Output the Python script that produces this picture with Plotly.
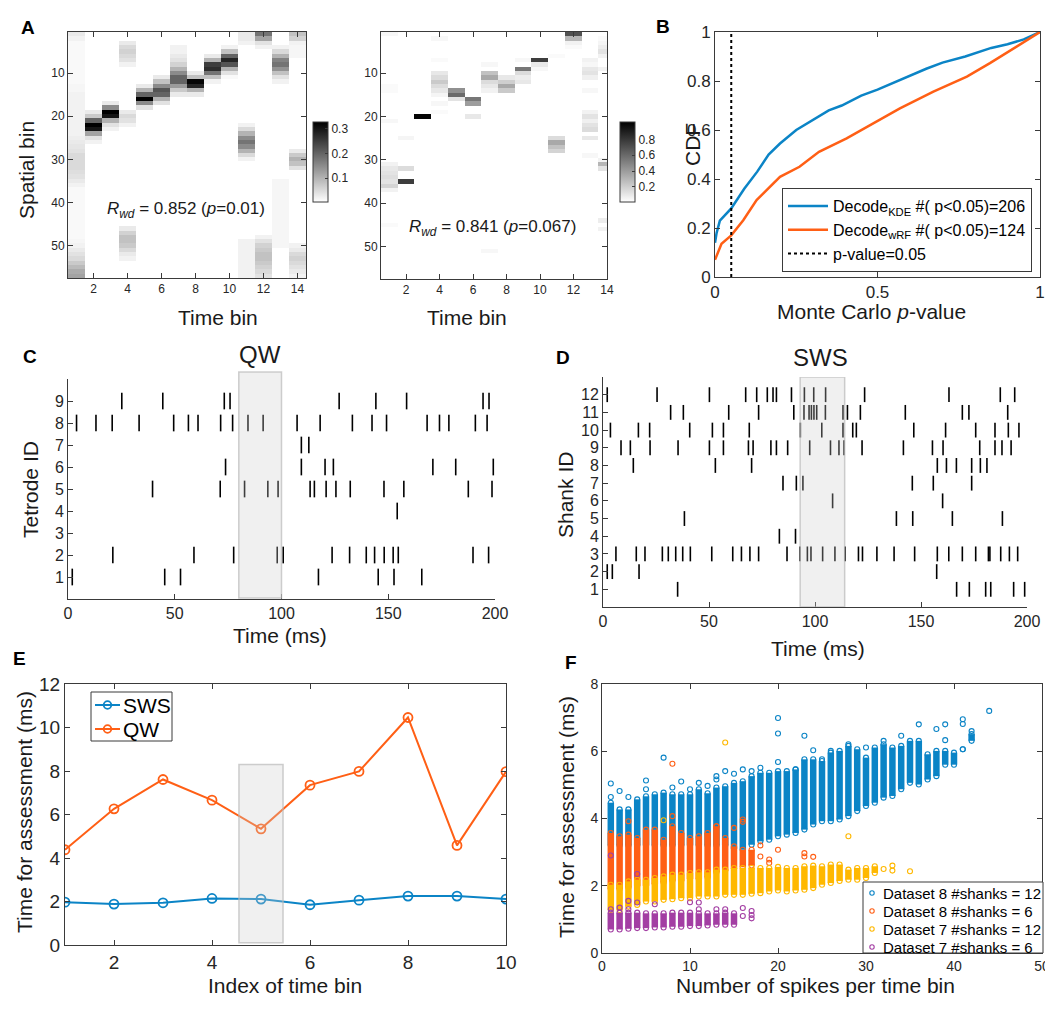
import plotly.graph_objects as go

# The page body has an 8 px margin; the figure is sized so that it ends exactly
# at the window edge, and all positions below are given in window pixels.
OFF = 8
W, H = 1053 - OFF, 1009 - OFF
FONT = "Liberation Sans, Arial, Helvetica, sans-serif"
TXT = "#1a1a1a"
AXC = "#3a3a3a"


def PX(x):
    return (x - OFF) / W


def PY(y):
    return 1 - (y - OFF) / H


# ---------------- Panel A data ----------------
TIME_BINS = list(range(1, 15))
SPATIAL_BINS = list(range(1, 58))

# (time bin, first spatial bin, posterior values of consecutive spatial bins)
A_LEFT_CELLS = [
    (1, 1, [0.03, 0.02, 0.01, 0.01, 0.01, 0.01, 0.01, 0.01, 0.01, 0.01,
            0.01, 0.01, 0.015, 0.015, 0.02, 0.02, 0.02, 0.02, 0.02, 0.02,
            0.02, 0.02, 0.02, 0.02, 0.025, 0.03, 0.035, 0.04, 0.05, 0.05,
            0.05, 0.05, 0.045, 0.04, 0.03, 0.02, 0.01, 0.01, 0.01, 0.01,
            0.01, 0.01, 0.01, 0.01, 0.01, 0.01, 0.01, 0.01, 0.015, 0.02,
            0.03, 0.04, 0.05, 0.07, 0.09, 0.11, 0.12]),
    (2, 19, [0.03, 0.07, 0.2, 0.33, 0.3, 0.12, 0.04, 0.02]),
    (3, 17, [0.03, 0.15, 0.33, 0.3, 0.1, 0.04, 0.02]),
    (4, 3, [0.03, 0.05, 0.06, 0.05, 0.04, 0.02]),
    (4, 19, [0.03, 0.05, 0.04, 0.02]),
    (4, 46, [0.03, 0.06, 0.08, 0.08, 0.07, 0.05, 0.03, 0.02]),
    (5, 13, [0.03, 0.1, 0.2, 0.33, 0.15, 0.04]),
    (6, 11, [0.03, 0.08, 0.15, 0.22, 0.2, 0.1, 0.04]),
    (7, 4, [0.02, 0.02, 0.03, 0.04, 0.06, 0.1, 0.15, 0.2, 0.2, 0.13, 0.07, 0.03]),
    (8, 10, [0.03, 0.08, 0.32, 0.28, 0.1, 0.03]),
    (9, 6, [0.03, 0.1, 0.25, 0.27, 0.18, 0.08, 0.02]),
    (10, 4, [0.02, 0.08, 0.2, 0.28, 0.22, 0.1, 0.04, 0.01]),
    (11, 1, [0.03, 0.03, 0.02]),
    (11, 22, [0.02, 0.05, 0.1, 0.15, 0.18, 0.15, 0.1, 0.05, 0.02]),
    (11, 49, [0.02, 0.02, 0.02, 0.02, 0.02, 0.02, 0.02, 0.02, 0.02]),
    (12, 1, [0.18, 0.12, 0.04, 0.02]),
    (12, 48, [0.02, 0.04, 0.06, 0.07, 0.08, 0.08, 0.07, 0.06, 0.05, 0.04]),
    (13, 4, [0.02, 0.05, 0.1, 0.16, 0.18, 0.14, 0.08, 0.04, 0.02]),
    (13, 35, [0.015, 0.015, 0.015, 0.015, 0.015, 0.015, 0.015, 0.015,
              0.015, 0.015, 0.015, 0.015, 0.015, 0.015, 0.015, 0.015]),
    (14, 1, [0.08, 0.06, 0.02, 0.015, 0.015, 0.015]),
    (14, 28, [0.03, 0.07, 0.1, 0.08, 0.04]),
    (14, 50, [0.02, 0.03, 0.05, 0.06, 0.05, 0.04, 0.03, 0.02]),
]

A_RIGHT_CELLS = [
    (1, 1, [0.04]), (1, 13, [0.03, 0.03]), (1, 21, [0.04]),
    (1, 31, [0.06, 0.1, 0.12, 0.14, 0.12, 0.18, 0.06]), (1, 45, [0.03]),
    (2, 25, [0.05]), (2, 32, [0.15]), (2, 35, [0.78]),
    (3, 20, [1.0]),
    (4, 2, [0.04]), (4, 7, [0.03]), (4, 10, [0.1, 0.15, 0.22, 0.15, 0.1, 0.05]),
    (4, 17, [0.04]), (4, 19, [0.03]),
    (5, 14, [0.45, 0.6, 0.12]),
    (6, 16, [0.55, 0.4]), (6, 20, [0.1]),
    (7, 8, [0.04]), (7, 10, [0.25, 0.35, 0.15, 0.1, 0.06]), (7, 51, [0.04]),
    (8, 11, [0.1, 0.2, 0.35, 0.22]),
    (9, 7, [0.04]), (9, 9, [0.55, 0.15, 0.08, 0.1]),
    (10, 7, [0.78, 0.1, 0.04]),
    (11, 6, [0.03]), (11, 25, [0.15, 0.35, 0.25, 0.18]),
    (12, 1, [0.7, 0.3, 0.06, 0.03]),
    (13, 7, [0.06, 0.04, 0.1, 0.12, 0.07]), (13, 14, [0.04]),
    (13, 19, [0.06, 0.12, 0.07, 0.12, 0.15]), (13, 25, [0.1]), (13, 29, [0.04]),
    (14, 2, [0.03, 0.05, 0.08, 0.12, 0.06]), (14, 9, [0.06]),
    (14, 30, [0.06, 0.3, 0.12]), (14, 44, [0.08]), (14, 46, [0.06]),
]

# ---------------- Panel B data ----------------
B_KDE_P = [0.0, 0.005, 0.015, 0.05, 0.09, 0.13, 0.165, 0.2, 0.25, 0.3, 0.35,
           0.39, 0.45, 0.5, 0.56, 0.65, 0.7, 0.77, 0.85, 0.9, 0.95, 1.0]
B_KDE_CDF = [0.14, 0.18, 0.23, 0.28, 0.36, 0.43, 0.50, 0.545, 0.60, 0.64, 0.68,
             0.70, 0.74, 0.765, 0.80, 0.85, 0.875, 0.90, 0.935, 0.95, 0.97, 1.0]
B_WRF_P = [0.0, 0.02, 0.05, 0.087, 0.128, 0.2, 0.26, 0.32, 0.405, 0.487,
           0.569, 0.672, 0.775, 0.846, 0.928, 1.0]
B_WRF_CDF = [0.07, 0.136, 0.17, 0.232, 0.314, 0.409, 0.45, 0.511, 0.566, 0.627,
             0.688, 0.757, 0.818, 0.873, 0.941, 1.0]
B_ALPHA = 0.05

# ---------------- Panel C data (QW, tetrodes) ----------------
C_SPIKES = {
    9: [25.2, 44.4, 73.2, 75.9, 127.0, 144.2, 158.6, 194.4, 197.2],
    8: [4.0, 13.1, 20.7, 33.3, 49.5, 56.4, 60.9, 71.5, 77.1, 84.3, 91.4, 107.3,
        118.1, 133.2, 142.4, 149.2, 168.2, 174.0, 178.4, 190.8, 196.3],
    7: [109.3, 112.8],
    6: [73.8, 109.3, 120.4, 124.3, 170.9, 181.6, 199.2],
    5: [39.6, 71.3, 82.7, 93.6, 98.4, 113.4, 115.4, 120.9, 125.5, 132.2, 148.0,
        157.3, 187.5, 198.6],
    4: [154.2],
    3: [],
    2: [21.0, 59.0, 77.6, 98.0, 100.8, 123.7, 131.9, 139.7, 143.6, 148.1, 152.3,
        154.7, 189.7, 197.0],
    1: [2.0, 45.3, 52.7, 117.3, 145.3, 152.7, 165.7],
}
C_WINDOW = (80, 100)

# ---------------- Panel D data (SWS, shanks) ----------------
D_SPIKES = {
    12: [2.0, 25.5, 50.2, 67.3, 72.5, 77.5, 80.2, 81.8, 88.9, 95.0, 99.4, 105.0,
         123.4, 163.2, 187.4, 194.2],
    11: [31.9, 37.9, 59.3, 73.4, 90.0, 94.8, 97.2, 98.3, 99.5, 100.8, 104.9,
         113.2, 115.3, 121.4, 142.6, 169.5, 172.6, 190.9],
    10: [3.5, 16.7, 22.0, 40.9, 51.6, 56.8, 69.0, 93.1, 103.2, 113.2, 117.8,
         119.5, 146.6, 161.6, 175.8, 184.9, 191.2, 196.2],
    9: [8.5, 12.9, 22.2, 35.4, 50.2, 56.8, 68.6, 70.8, 79.2, 81.8, 87.1, 97.5,
        107.3, 111.3, 113.7, 122.2, 141.7, 155.4, 160.4, 177.7, 184.9, 188.2,
        192.5],
    8: [14.3, 53.0, 70.1, 157.7, 162.0, 166.7, 173.9, 178.0, 181.1],
    7: [84.9, 91.2, 94.3, 145.9, 155.8, 173.9],
    6: [108.3, 160.2],
    5: [38.4, 138.4, 146.1, 164.8, 188.4],
    4: [83.2, 90.8],
    3: [6.1, 15.7, 19.8, 28.0, 30.8, 34.3, 37.6, 41.2, 51.3, 61.2, 65.3, 69.3,
        73.4, 86.8, 92.9, 96.4, 98.1, 103.6, 109.4, 114.2, 120.5, 122.4, 129.2,
        137.3, 147.0, 157.7, 163.1, 169.5, 175.8, 181.8, 182.5, 187.6, 191.7,
        195.6],
    2: [2.0, 4.4, 17.0, 157.4],
    1: [35.2, 166.8, 172.8, 180.5, 182.9, 193.7, 198.9],
}
D_WINDOW = (93, 114)

# ---------------- Panel E data ----------------
E_TIME_BIN = [1, 2, 3, 4, 5, 6, 7, 8, 9, 10]
E_SWS = [1.97, 1.88, 1.94, 2.14, 2.11, 1.85, 2.06, 2.25, 2.25, 2.11]
E_QW = [4.38, 6.26, 7.61, 6.66, 5.34, 7.35, 7.98, 10.46, 4.58, 7.97]
E_WINDOW = (4.55, 5.45, 8.3)

# ---------------- Panel F data (ranges of dense columns + outliers) -------
F_B_X = list(range(1, 43))
F_B_HI = [4.47, 4.27, 4.27, 4.57, 4.66, 4.72, 4.77, 4.72, 4.72, 4.72, 4.87, 4.75,
          4.92, 4.96, 5.06, 5.11, 5.26, 5.36, 5.36, 5.41, 5.41, 5.46, 5.76, 5.76,
          5.71, 5.96, 6.01, 6.16, 6.06, 5.81, 6.11, 6.21, 6.11, 6.16, 6.31, 6.31,
          5.91, 6.01, 6.01, 5.96, 6.06, 6.51]
F_B_LO = [3.2, 3.2, 3.2, 3.2, 3.2, 3.2, 3.2, 3.2, 3.2, 3.2, 3.2, 3.2, 3.2, 3.2,
          3.1, 3.07, 3.22, 3.32, 3.37, 3.47, 3.52, 3.57, 3.67, 3.82, 3.92, 3.92,
          3.97, 4.07, 4.22, 4.37, 4.47, 4.62, 4.67, 4.87, 5.06, 5.01, 5.16, 5.26,
          5.6, 5.6, 6.06, 6.31]
F_B_OUT_X = [1, 1, 2, 3, 5, 5, 7, 8, 9, 10, 11, 12, 13, 13, 14, 15, 16, 17, 18,
             20, 20, 20, 22, 23, 24, 25, 26, 28, 30, 32, 34, 36, 38, 39, 39, 41,
             41, 42, 44]
F_B_OUT_Y = [5.04, 4.64, 4.82, 4.64, 5.13, 4.87, 5.81, 4.92, 5.1, 4.87, 5.06,
             4.97, 5.26, 5.16, 5.41, 5.33, 5.46, 5.41, 5.51, 6.99, 6.53, 5.68,
             5.46, 6.46, 6.03, 5.76, 6.01, 6.21, 6.11, 6.31, 6.46, 6.8, 6.66, 6.8,
             6.33, 6.95, 6.81, 6.6, 7.2]

F_O_X = list(range(1, 18))
F_O_HI = [3.57, 3.47, 3.52, 3.42, 3.67, 3.67, 3.37, 3.77, 3.57, 3.42, 3.47, 3.57,
          3.77, 3.42, 3.17, 3.07, 3.07]
F_O_LO = [1.9, 1.9, 1.95, 2.0, 2.0, 2.05, 2.1, 2.15, 2.15, 2.2, 2.2, 2.25, 2.4,
          2.45, 2.5, 2.55, 2.6]
F_O_OUT_X = [3, 8, 8, 13, 15, 16, 16, 18, 18, 19, 19, 20, 23, 23, 24]
F_O_OUT_Y = [3.92, 4.07, 5.63, 3.77, 3.72, 3.97, 3.9, 3.2, 2.87, 2.78, 2.68,
             3.07, 2.97, 2.87, 2.86]

F_Y_X = list(range(1, 32))
F_Y_HI = [2.03, 2.03, 2.13, 2.18, 2.18, 2.23, 2.28, 2.33, 2.33, 2.38, 2.4, 2.4,
          2.48, 2.48, 2.53, 2.53, 2.53, 2.53, 2.53, 2.56, 2.53, 2.53, 2.58, 2.6,
          2.58, 2.63, 2.63, 2.48, 2.53, 2.53, 2.58]
F_Y_LO = [1.28, 1.28, 1.38, 1.43, 1.53, 1.53, 1.58, 1.6, 1.63, 1.63, 1.68, 1.68,
          1.68, 1.73, 1.73, 1.73, 1.76, 1.78, 1.83, 1.86, 1.83, 1.86, 1.88, 1.93,
          2.03, 2.08, 2.14, 2.18, 2.18, 2.23, 2.38]
F_Y_OUT_X = [7, 14, 28, 32, 33, 33, 35]
F_Y_OUT_Y = [3.95, 6.26, 3.47, 2.5, 2.6, 2.45, 2.43]

F_P_X = list(range(1, 16))
F_P_HI = [1.2, 1.2, 1.2, 1.2, 1.18, 1.18, 1.18, 1.2, 1.2, 1.2, 1.18, 1.18, 1.18,
          1.2, 1.18]
F_P_LO = [0.7, 0.7, 0.72, 0.74, 0.74, 0.76, 0.76, 0.78, 0.78, 0.8, 0.8, 0.82,
          0.84, 0.84, 0.84]
F_P_OUT_X = [1, 1, 2, 3, 3, 4, 4, 6, 10, 11, 11, 13, 14, 16, 16, 17, 17, 17]
F_P_OUT_Y = [1.3, 2.9, 1.35, 1.55, 1.3, 2.35, 1.5, 1.45, 1.51, 1.5, 1.3, 1.3,
             1.3, 1.34, 1.1, 1.25, 1.13, 1.03]

F_NAMES = ["Dataset 8 #shanks = 12", "Dataset 8 #shanks = 6",
           "Dataset 7 #shanks = 12", "Dataset 7 #shanks = 6"]
E_NAMES = ["SWS", "QW"]

C_BLUE = "#0b84c6"
C_ORANGE = "#ff5f15"
C_YELLOW = "#ffb800"
C_PURPLE = "#a33ea3"

# ---------------- axes rectangles in pixels: (x0, x1, y0_top, y1_bottom) ----
RECT = {
    1: (68, 306, 32, 278),
    2: (381, 607, 32, 279),
    3: (715, 1040, 32, 277),
    4: (68, 495, 379, 599),
    5: (603, 1027, 377, 607),
    6: (65, 506, 684, 945),
    7: (602, 1042, 684, 953),
}


def dom_x(i):
    r = RECT[i]
    return [PX(r[0]), PX(r[1])]


def dom_y(i):
    r = RECT[i]
    return [PY(r[3]), PY(r[2])]


def axis(domain, rng, tickvals, size, anchor, mirror=True, ticktext=None):
    d = dict(domain=domain, range=rng, tickvals=tickvals, showline=True,
             linecolor=AXC, linewidth=1, ticks="inside", ticklen=5,
             tickcolor=AXC, tickwidth=1, mirror="ticks" if mirror else False,
             showgrid=False, zeroline=False, anchor=anchor, fixedrange=True,
             automargin=False,
             tickfont=dict(family=FONT, size=size, color="#262626"))
    if ticktext is not None:
        d["ticktext"] = ticktext
    return d


def build_matrix(cells):
    z = [[0.0 for _ in TIME_BINS] for _ in SPATIAL_BINS]
    for t, s0, vals in cells:
        for k, v in enumerate(vals):
            z[s0 - 1 + k][t - 1] = v
    return z


fig = go.Figure()

# ----- Panel A heatmaps -----
gray_scale = [[0, "#ffffff"], [1, "#000000"]]
fig.add_trace(go.Heatmap(
    z=build_matrix(A_LEFT_CELLS), x=TIME_BINS, y=SPATIAL_BINS,
    colorscale=gray_scale, zmin=0.003, zmax=0.327, xaxis="x", yaxis="y",
    colorbar=dict(x=PX(313), xanchor="left", y=PY(162), yanchor="middle",
                  len=80, lenmode="pixels", thickness=15,
                  thicknessmode="pixels", outlinewidth=1, outlinecolor=AXC,
                  tickvals=[0.1, 0.2, 0.3], ticks="inside", ticklen=3,
                  tickcolor=AXC, xpad=0, ypad=0,
                  tickfont=dict(family=FONT, size=12, color="#262626"))))
fig.add_trace(go.Heatmap(
    z=build_matrix(A_RIGHT_CELLS), x=TIME_BINS, y=SPATIAL_BINS,
    colorscale=gray_scale, zmin=0.01, zmax=1.02, xaxis="x2", yaxis="y2",
    colorbar=dict(x=PX(620), xanchor="left", y=PY(162), yanchor="middle",
                  len=80, lenmode="pixels", thickness=15,
                  thicknessmode="pixels", outlinewidth=1, outlinecolor=AXC,
                  tickvals=[0.2, 0.4, 0.6, 0.8], ticks="inside", ticklen=3,
                  tickcolor=AXC, xpad=0, ypad=0,
                  tickfont=dict(family=FONT, size=12, color="#262626"))))

# ----- Panel B -----
fig.add_trace(go.Scatter(
    x=B_KDE_P, y=B_KDE_CDF, mode="lines", line=dict(color=C_BLUE, width=2.5),
    name="Decode<sub>KDE</sub> #( p<0.05)=206", xaxis="x3", yaxis="y3",
    legend="legend"))
fig.add_trace(go.Scatter(
    x=B_WRF_P, y=B_WRF_CDF, mode="lines", line=dict(color=C_ORANGE, width=2.5),
    name="Decode<sub>wRF</sub> #( p<0.05)=124", xaxis="x3", yaxis="y3",
    legend="legend"))
fig.add_trace(go.Scatter(
    x=[B_ALPHA, B_ALPHA], y=[0, 1], mode="lines",
    line=dict(color="black", width=2, dash="dot"),
    name="p-value=0.05", xaxis="x3", yaxis="y3", legend="legend"))


# ----- Panels C & D rasters -----
def raster(spikes, half):
    xs, ys = [], []
    for row, times in spikes.items():
        for t in times:
            xs += [t, t, None]
            ys += [row - half, row + half, None]
    return xs, ys


cx, cy = raster(C_SPIKES, 0.38)
fig.add_trace(go.Scatter(x=cx, y=cy, mode="lines",
                         line=dict(color="black", width=1.6),
                         xaxis="x4", yaxis="y4", showlegend=False))
dx, dy = raster(D_SPIKES, 0.42)
fig.add_trace(go.Scatter(x=dx, y=dy, mode="lines",
                         line=dict(color="black", width=1.6),
                         xaxis="x5", yaxis="y5", showlegend=False))

# ----- Panel E -----
for name, yv, col in [(E_NAMES[0], E_SWS, C_BLUE), (E_NAMES[1], E_QW, C_ORANGE)]:
    fig.add_trace(go.Scatter(
        x=E_TIME_BIN, y=yv, mode="lines+markers", name=name,
        line=dict(color=col, width=2),
        marker=dict(symbol="circle-open", size=9, line=dict(width=1.8, color=col)),
        xaxis="x6", yaxis="y6", showlegend=False))


# ----- Panel F -----
def ranges(xv, lo, hi):
    xs, ys = [], []
    for x, a, b in zip(xv, lo, hi):
        xs += [x, x, None]
        ys += [a, b, None]
    return xs, ys


F_SERIES = [
    (F_NAMES[0], C_BLUE, F_B_X, F_B_LO, F_B_HI, F_B_OUT_X, F_B_OUT_Y),
    (F_NAMES[1], C_ORANGE, F_O_X, F_O_LO, F_O_HI, F_O_OUT_X, F_O_OUT_Y),
    (F_NAMES[2], C_YELLOW, F_Y_X, F_Y_LO, F_Y_HI, F_Y_OUT_X, F_Y_OUT_Y),
    (F_NAMES[3], C_PURPLE, F_P_X, F_P_LO, F_P_HI, F_P_OUT_X, F_P_OUT_Y),
]
for name, col, xv, lo, hi, ox, oy in F_SERIES:
    rx, ry = ranges(xv, lo, hi)
    fig.add_trace(go.Scatter(x=rx, y=ry, mode="lines",
                             line=dict(color=col, width=6.5),
                             xaxis="x7", yaxis="y7", showlegend=False))
    fig.add_trace(go.Scatter(
        x=list(xv) + list(xv) + list(ox), y=list(lo) + list(hi) + list(oy),
        mode="markers", name=name,
        marker=dict(symbol="circle-open", size=5, color=col,
                    line=dict(width=1.1, color=col)),
        xaxis="x7", yaxis="y7", showlegend=False))

# ---------------- layout ----------------
layout = dict(
    width=W, height=H,
    margin=dict(l=0, r=0, t=0, b=0, pad=0, autoexpand=False),
    paper_bgcolor="white", plot_bgcolor="white",
    font=dict(family=FONT, color=TXT),
    xaxis=axis(dom_x(1), [0.5, 14.5], [2, 4, 6, 8, 10, 12, 14], 12, "y"),
    yaxis=axis(dom_y(1), [57.5, 0.5], [10, 20, 30, 40, 50], 12, "x"),
    xaxis2=axis(dom_x(2), [0.5, 14.0], [2, 4, 6, 8, 10, 12, 14], 12, "y2"),
    yaxis2=axis(dom_y(2), [57.5, 0.5], [10, 20, 30, 40, 50], 12, "x2"),
    xaxis3=axis(dom_x(3), [0, 1], [0, 0.5, 1], 17, "y3",
                ticktext=["0", "0.5", "1"]),
    yaxis3=axis(dom_y(3), [0, 1], [0, 0.2, 0.4, 0.6, 0.8, 1], 17, "x3",
                ticktext=["0", "0.2", "0.4", "0.6", "0.8", "1"]),
    xaxis4=axis(dom_x(4), [0, 200], [0, 50, 100, 150, 200], 16, "y4", mirror=False),
    yaxis4=axis(dom_y(4), [0, 10], list(range(1, 10)), 16, "x4", mirror=False),
    xaxis5=axis(dom_x(5), [0, 200], [0, 50, 100, 150, 200], 16, "y5", mirror=False),
    yaxis5=axis(dom_y(5), [0, 13], list(range(1, 13)), 16, "x5", mirror=False),
    xaxis6=axis(dom_x(6), [1, 10], [2, 4, 6, 8, 10], 19, "y6"),
    yaxis6=axis(dom_y(6), [0, 12], [0, 2, 4, 6, 8, 10, 12], 19, "x6"),
    xaxis7=axis(dom_x(7), [0, 50], [0, 10, 20, 30, 40, 50], 14, "y7"),
    yaxis7=axis(dom_y(7), [0, 8], [0, 2, 4, 6, 8], 14, "x7"),
    legend=dict(x=PX(782), y=PY(188), xanchor="left", yanchor="top",
                bgcolor="white", bordercolor=AXC, borderwidth=1,
                font=dict(family=FONT, size=16, color="black"),
                tracegroupgap=0, itemwidth=40),
)
fig.update_layout(**layout)

SHAPES = []
ANN = []

# shaded windows (drawn above with transparency, like the original)
shade = dict(fillcolor="rgba(205,205,205,0.3)",
             line=dict(color="rgba(185,185,185,0.7)", width=1.5), layer="above")
SHAPES.append(dict(type="rect", xref="x4", yref="paper", x0=C_WINDOW[0],
                   x1=C_WINDOW[1], y0=PY(598), y1=PY(372), **shade))
SHAPES.append(dict(type="rect", xref="x5", yref="y5", x0=D_WINDOW[0],
                   x1=D_WINDOW[1], y0=0, y1=13, **shade))
SHAPES.append(dict(type="rect", xref="x6", yref="y6", x0=E_WINDOW[0],
                   x1=E_WINDOW[1], y0=0.1, y1=E_WINDOW[2], **shade))


def text(s, x, y, size, angle=0, bold=False, color=TXT, anchor="center"):
    ANN.append(dict(text=("<b>%s</b>" % s) if bold else s, x=PX(x), y=PY(y),
                    xref="paper", yref="paper", showarrow=False,
                    xanchor=anchor, yanchor="middle", textangle=angle,
                    font=dict(family=FONT, size=size, color=color)))


def box(x0, y0, x1, y1):
    SHAPES.append(dict(type="rect", xref="paper", yref="paper", x0=PX(x0),
                       x1=PX(x1), y0=PY(y1), y1=PY(y0), layer="above",
                       fillcolor="white", line=dict(color=AXC, width=1)))


def circle(cxp, cyp, r, col, width):
    SHAPES.append(dict(type="circle", xref="paper", yref="paper",
                       x0=PX(cxp - r), x1=PX(cxp + r), y0=PY(cyp + r),
                       y1=PY(cyp - r), layer="above",
                       line=dict(color=col, width=width)))


# legend of panel E (lines with circle markers)
box(91, 692, 172, 741)
for name, col, ry in [(E_NAMES[0], C_BLUE, 705), (E_NAMES[1], C_ORANGE, 729)]:
    SHAPES.append(dict(type="line", xref="paper", yref="paper", x0=PX(95),
                       x1=PX(120), y0=PY(ry), y1=PY(ry), layer="above",
                       line=dict(color=col, width=2)))
    circle(107.5, ry, 3.8, col, 1.8)
    text(name, 121, ry, 21, color="black", anchor="left")

# legend of panel F (small open circles)
box(863, 882, 1043, 953)
for name, col, ry in zip(F_NAMES, [C_BLUE, C_ORANGE, C_YELLOW, C_PURPLE],
                         [893, 911, 929, 947]):
    circle(872, ry, 2.2, col, 1.1)
    text(name, 881, ry, 15, color="black", anchor="left")

# ---------------- text annotations ----------------
for letter, lx, ly in [("A", 28, 27), ("B", 663, 26), ("C", 30, 356),
                       ("D", 563, 358), ("E", 19, 658), ("F", 571, 662)]:
    text(letter, lx, ly, 19, bold=True, color="black")

text("Spatial bin", 27, 170, 21, angle=-90)
text("Time bin", 218, 318, 21)
text("Time bin", 467, 318, 21)
text("<i>R</i><sub><i>wd</i></sub> = 0.852 (<i>p</i>=0.01)", 186, 210, 17)
text("<i>R</i><sub><i>wd</i></sub> = 0.841 (<i>p</i>=0.067)", 492, 228, 17)
text("CDF", 692, 145, 21, angle=-90)
text("Monte Carlo <i>p</i>-value", 871, 312, 21)
text("QW", 260, 355, 24)
text("Tetrode ID", 30, 490, 21, angle=-90)
text("Time (ms)", 280, 635, 21)
text("SWS", 820, 357, 24)
text("Shank ID", 565, 495, 21, angle=-90)
text("Time (ms)", 818, 648, 21)
text("Time for assessment (ms)", 24, 812, 21, angle=-90)
text("Index of time bin", 285, 985, 21)
text("Time for assessment (ms)", 566, 817, 21, angle=-90)
text("Number of spikes per time bin", 815, 985, 21)

fig.update_layout(shapes=SHAPES, annotations=ANN)

fig.write_html("out.html")
